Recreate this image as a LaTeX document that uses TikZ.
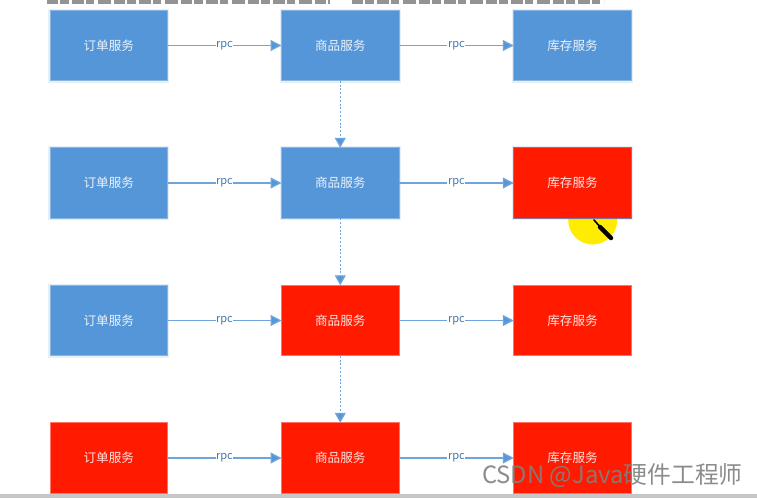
\documentclass[tikz,border=0pt]{standalone}
\usepackage{fontspec}
\setmainfont{Noto Sans CJK SC}
\usetikzlibrary{arrows.meta}
\definecolor{svcblue}{HTML}{5596D8}
\definecolor{svcred}{HTML}{FF1A00}
\definecolor{linkblue}{HTML}{6FA5DE}
\tikzset{
  svc/.style={minimum width=117.5pt,minimum height=70.5pt,inner sep=0pt,outer sep=0pt,
    font=\fontsize{12.6pt}{14pt}\selectfont,text=white,text opacity=.88},
  bluebox/.style={svc,fill=svcblue,draw=svcblue!70!white,line width=.6pt,
    preaction={draw=svcblue,draw opacity=.14,line width=3.5pt}},
  redbox/.style={svc,fill=svcred,draw=svcred!60!white,line width=.6pt},
  alertbox/.style={svc,fill=svcred,draw=svcblue!75!svcred,line width=1pt,
    preaction={draw=svcblue,draw opacity=.14,line width=3.5pt}},
  rpclink/.style={draw=linkblue,line width=1.3pt,-{Triangle[length=11pt,width=11pt,fill=svcblue]}},
  calllink/.style={draw=linkblue,line width=1.3pt,dash pattern=on 2pt off 1.8pt,
    -{Triangle[length=10pt,width=11pt,fill=svcblue]}},
  rpclabel/.style={fill=white,inner sep=.6pt,text=svcblue!80!black,font=\fontsize{11pt}{12pt}\selectfont},
  mark/.style={}
}
\begin{document}
\begin{tikzpicture}[x=1pt,y=-1pt]
\useasboundingbox (0,0) rectangle (757,498);
\fill[white] (0,0) rectangle (757,498);
% cropped, illegible line of text along the top edge
\begin{scope}
\clip (0,0) rectangle (757,4);
\draw[black!60,opacity=.7,line width=7pt,dash pattern=on 11pt off 2pt on 9pt off 3pt on 12pt off 2pt on 8pt off 4pt on 13pt off 3pt]
  (47,0) -- (330,0) (352,0) -- (604,0);
\end{scope}
% bottom edge rule
\fill[black!22] (0,494) rectangle (757,498);
% highlighter and pen
\fill[yellow!95!orange] (592.7,220) circle (24.5);
% boxes
\node[bluebox] (a1) at (108.75,45.5) {订单服务};
\node[bluebox] (b1) at (340.25,45.5) {商品服务};
\node[bluebox] (c1) at (572.5,45.5) {库存服务};
\node[bluebox] (a2) at (108.75,183) {订单服务};
\node[bluebox] (b2) at (340.25,183) {商品服务};
\node[alertbox] (c2) at (572.5,183) {库存服务};
\node[bluebox] (a3) at (108.75,320.5) {订单服务};
\node[redbox] (b3) at (340.25,320.5) {商品服务};
\node[redbox] (c3) at (572.5,320.5) {库存服务};
\node[redbox] (a4) at (108.75,458) {订单服务};
\node[redbox] (b4) at (340.25,458) {商品服务};
\node[redbox] (c4) at (572.5,458) {库存服务};
% pen tip over the box edge
\draw[black,line width=1.6pt,line cap=round] (594,220) -- (602,229);
\draw[black,line width=4.5pt,line cap=round] (600,227) -- (611,238);
% connectors
\foreach \r in {1,2,3,4}{
  \draw[rpclink] (a\r) -- node[rpclabel]{rpc} (b\r);
  \draw[rpclink] (b\r) -- node[rpclabel]{rpc} (c\r);
}
\draw[calllink] (b1) -- (b2);
\draw[calllink] (b2) -- (b3);
\draw[calllink] (b3) -- (b4);
% watermark
\node[anchor=west,inner sep=0pt,text=black!50,text opacity=.9,font=\fontsize{23.8pt}{26pt}\selectfont] (wm) at (482,476) {CSDN @Java硬件工程师};
\end{tikzpicture}
\end{document}
